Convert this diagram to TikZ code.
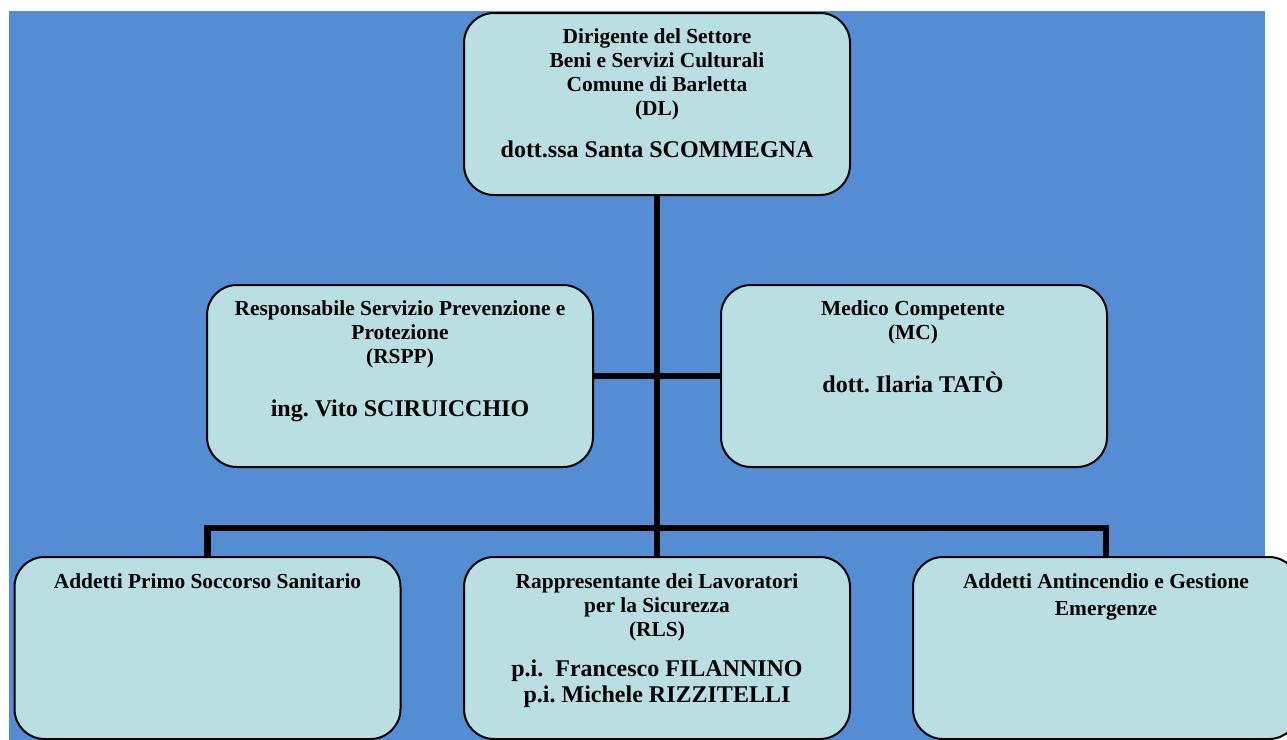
\documentclass[tikz,border=0pt]{standalone}
\usepackage{fontspec}
\setmainfont{Liberation Serif}
\usetikzlibrary{backgrounds}
\definecolor{bgblue}{RGB}{84,141,212}
\definecolor{boxfill}{RGB}{185,223,227}
\frenchspacing
\begin{document}
\begin{tikzpicture}[x=0.5pt,y=-0.5pt,
  box/.style={draw=black, line width=1pt, fill=boxfill, rounded corners=15pt,
    minimum width=193pt, minimum height=91pt, inner sep=0pt},
  head/.style={anchor=base, align=center, inner sep=0pt,
    font=\bfseries\fontsize{10.7}{12}\selectfont},
  who/.style={anchor=base, align=center, inner sep=0pt,
    font=\bfseries\fontsize{12}{13}\selectfont},
  conn/.style={line width=3.25pt, draw=black}]
\useasboundingbox (0,0) rectangle (1287,740);
\clip (0,0) rectangle (1287,740);
% boxes
\node[box] (dl) at (657,104) {};
\node[box] (rspp) at (400,376) {};
\node[box] (mc) at (914,376) {};
\node[box] (aps) at (207.5,648) {};
\node[box] (rls) at (657,648) {};
\node[box] (aae) at (1106,648) {};
% texts (anchor base = baseline of the last line)
\node[head] (dl-h) at (657,115.5) {Dirigente del Settore\\Beni e Servizi Culturali\\Comune di Barletta\\(DL)};
\node[who] (dl-n) at (657,157) {dott.ssa Santa SCOMMEGNA};
\node[head] (rspp-h) at (400,363) {Responsabile Servizio Prevenzione e\\Protezione\\(RSPP)};
\node[who] (rspp-n) at (400,416.7) {ing. Vito SCIRUICCHIO};
\node[head] (mc-h) at (913,339) {Medico Competente\\(MC)};
\node[who] (mc-n) at (913,392.7) {dott. Ilaria TAT\`O};
\node[head] (aps-h) at (207.5,588) {Addetti Primo Soccorso Sanitario};
\node[head] (rls-h) at (657,636) {Rappresentante dei Lavoratori\\per la Sicurezza\\(RLS)};
\node[who] (rls-n) at (657,702.7) {p.i.\ \ Francesco FILANNINO\\p.i. Michele RIZZITELLI};
\node[head, font=\bfseries\fontsize{10.7}{13.5}\selectfont] (aae-h) at (1106,615) {Addetti Antincendio e Gestione\\Emergenze};
\coordinate (bar) at (657,528);
\begin{scope}[on background layer]
  \fill[bgblue] (9,11) rectangle (1265,760);
  \draw[conn] (dl.south) -- (rls.north);
  \draw[conn] (rspp.east) -- (mc.west);
  \draw[conn] (aps.north) |- (bar) -| (aae.north);
\end{scope}
\end{tikzpicture}
\end{document}
